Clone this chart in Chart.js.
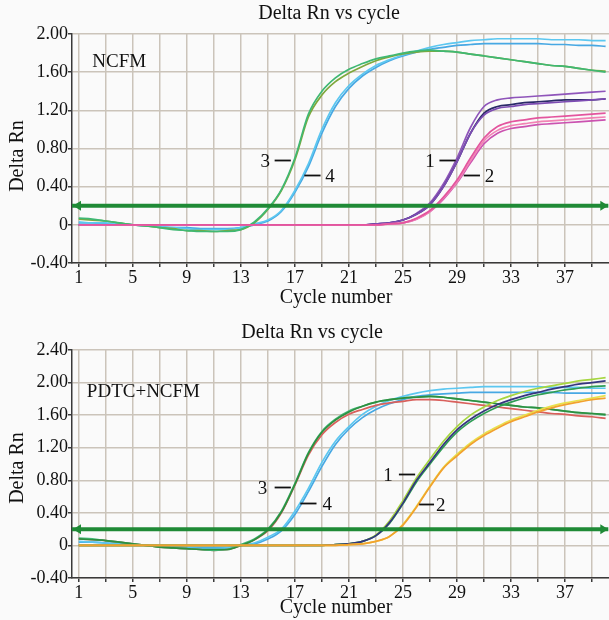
<!DOCTYPE html>
<html>
<head>
<meta charset="utf-8">
<script src="https://cdn.jsdelivr.net/npm/chart.js@4.4.1/dist/chart.umd.min.js"></script>
<style>
    html, body { margin: 0; padding: 0; background: #fafafa; overflow: hidden; }
    canvas { display: block; }
</style>
</head>
<body>
<canvas id="ncfmCanvas" width="611" height="310" style="width:611px;height:310px"></canvas>
<canvas id="pdtcCanvas" width="611" height="310" style="width:611px;height:310px"></canvas>
<script>

// ---------------- Data -------------------------------------------------------
const CYCLES = [ 1, 2, 3, 4, 5, 6, 7, 8, 9,10,11,12,13,14,15,16,17,18,19,20,
                21,22,23,24,25,26,27,28,29,30,31,32,33,34,35,36,37,38,39,40] ;

const X_GRID_TICKS  = [ 1, 3, 5, 7, 9, 11, 13, 15, 17, 19, 21, 23, 25, 27, 29, 31, 33, 35, 37, 39 ] ;
const X_LABEL_TICKS = [ 1, 5, 9, 13, 17, 21, 25, 29, 33, 37 ] ;
const NCFM_Y_TICKS  = [ -0.4, 0, 0.4, 0.8, 1.2, 1.6, 2.0 ] ;
const PDTC_Y_TICKS  = [ -0.4, 0, 0.4, 0.8, 1.2, 1.6, 2.0, 2.4 ] ;

const THRESHOLD       = 0.2 ;
const THRESHOLD_RANGE = [ 0.5, 40.2 ] ;

// Panel 1 : NCFM
const NCFM_CURVE3_A = [0.07,0.06,0.04,0.02,0.00,-0.01,-0.03,-0.05,-0.06,-0.07,-0.07,-0.07,-0.05,0.03,0.17,0.37,0.70,1.16,1.40,1.54,
                       1.63,1.69,1.74,1.77,1.80,1.82,1.83,1.82,1.81,1.79,1.77,1.75,1.73,1.71,1.69,1.67,1.66,1.64,1.62,1.60] ;
const NCFM_CURVE3_B = [0.06,0.05,0.04,0.02,0.00,-0.01,-0.03,-0.04,-0.06,-0.06,-0.07,-0.06,-0.05,0.02,0.16,0.36,0.68,1.13,1.36,1.50,
                       1.59,1.66,1.72,1.76,1.79,1.81,1.82,1.82,1.81,1.79,1.77,1.75,1.73,1.71,1.69,1.67,1.66,1.64,1.62,1.61] ;
const NCFM_CURVE4_A = [0.03,0.02,0.02,0.01,0.00,-0.01,-0.02,-0.03,-0.04,-0.05,-0.05,-0.05,-0.03,0.01,0.05,0.15,0.36,0.64,1.00,1.28,
                       1.46,1.58,1.67,1.73,1.78,1.82,1.86,1.89,1.91,1.93,1.94,1.95,1.95,1.95,1.95,1.94,1.94,1.94,1.93,1.93] ;
const NCFM_CURVE4_B = [0.02,0.02,0.01,0.01,0.00,-0.01,-0.02,-0.03,-0.03,-0.04,-0.04,-0.04,-0.03,0.00,0.04,0.14,0.34,0.61,0.96,1.24,
                       1.43,1.56,1.65,1.72,1.77,1.81,1.84,1.86,1.88,1.89,1.90,1.90,1.90,1.90,1.90,1.89,1.89,1.88,1.88,1.87] ;
const NCFM_CURVE1_A = [0,0,0,0,0,0,0,0,0,0,0,0,0,0,0,0,0,0,0,0,
                       0,0,0.01,0.02,0.05,0.12,0.23,0.43,0.70,1.02,1.24,1.31,1.33,1.34,1.35,1.36,1.37,1.38,1.39,1.40] ;
const NCFM_CURVE1_B = [0,0,0,0,0,0,0,0,0,0,0,0,0,0,0,0,0,0,0,0,
                       0,0,0.01,0.02,0.05,0.11,0.21,0.40,0.66,0.96,1.17,1.24,1.26,1.28,1.29,1.30,1.31,1.31,1.31,1.32] ;
const NCFM_CURVE1_C = [0,0,0,0,0,0,0,0,0,0,0,0,0,0,0,0,0,0,0,0,
                       0,0,0.01,0.02,0.05,0.11,0.21,0.40,0.66,0.96,1.15,1.22,1.24,1.26,1.27,1.28,1.29,1.30,1.31,1.32] ;
const NCFM_CURVE2_A = [0,0,0,0,0,0,0,0,0,0,0,0,0,0,0,0,0,0,0,0,
                       0,0,0,0.01,0.02,0.07,0.15,0.29,0.47,0.70,0.91,1.03,1.08,1.10,1.12,1.13,1.14,1.15,1.16,1.17] ;
const NCFM_CURVE2_B = [0,0,0,0,0,0,0,0,0,0,0,0,0,0,0,0,0,0,0,0,
                       0,0,0,0.01,0.02,0.06,0.14,0.28,0.45,0.67,0.88,0.99,1.04,1.06,1.08,1.09,1.10,1.11,1.12,1.13] ;
const NCFM_CURVE2_C = [0,0,0,0,0,0,0,0,0,0,0,0,0,0,0,0,0,0,0,0,
                       0,0,0,0.01,0.02,0.06,0.14,0.27,0.44,0.65,0.85,0.96,1.01,1.03,1.05,1.06,1.07,1.08,1.09,1.10] ;

// Panel 2 : PDTC+NCFM
const PDTC_CURVE3_A = [0.09,0.08,0.06,0.04,0.02,0.00,-0.02,-0.03,-0.04,-0.05,-0.06,-0.05,0.01,0.08,0.20,0.42,0.76,1.14,1.40,1.55,
                       1.65,1.71,1.76,1.79,1.81,1.82,1.83,1.82,1.80,1.78,1.76,1.74,1.72,1.70,1.69,1.67,1.65,1.63,1.62,1.60] ;
const PDTC_CURVE3_B = [0.08,0.07,0.06,0.04,0.02,0.00,-0.02,-0.03,-0.04,-0.05,-0.05,-0.05,0.00,0.07,0.19,0.41,0.75,1.13,1.39,1.54,
                       1.64,1.71,1.76,1.79,1.81,1.82,1.83,1.82,1.80,1.78,1.76,1.74,1.72,1.70,1.69,1.67,1.65,1.63,1.62,1.61] ;
const PDTC_CURVE3_R = [0.08,0.07,0.06,0.04,0.02,0.00,-0.02,-0.03,-0.04,-0.05,-0.06,-0.05,0.00,0.07,0.18,0.40,0.74,1.11,1.36,1.51,
                       1.61,1.67,1.72,1.75,1.77,1.79,1.79,1.78,1.76,1.74,1.72,1.70,1.68,1.66,1.64,1.62,1.61,1.59,1.58,1.56] ;
const PDTC_CURVE4_A = [0.05,0.04,0.03,0.02,0.01,0.00,-0.01,-0.02,-0.03,-0.04,-0.04,-0.03,0.00,0.03,0.10,0.20,0.42,0.70,1.02,1.28,
                       1.46,1.61,1.71,1.78,1.83,1.87,1.90,1.92,1.93,1.94,1.95,1.95,1.95,1.95,1.95,1.94,1.94,1.94,1.93,1.93] ;
const PDTC_CURVE4_B = [0.04,0.04,0.03,0.02,0.01,0.00,-0.01,-0.02,-0.03,-0.03,-0.03,-0.03,0.00,0.02,0.08,0.18,0.38,0.66,0.97,1.24,
                       1.43,1.57,1.67,1.74,1.79,1.83,1.85,1.86,1.87,1.88,1.88,1.88,1.88,1.88,1.88,1.88,1.87,1.87,1.87,1.87] ;
const PDTC_CURVE1_Y = [0,0,0,0,0,0,0,0,0,0,0,0,0,0,0,0,0,0,0,0.01,
                       0.02,0.05,0.13,0.30,0.55,0.83,1.06,1.28,1.46,1.60,1.70,1.78,1.84,1.89,1.93,1.96,1.99,2.02,2.04,2.06] ;
const PDTC_CURVE1_N = [0,0,0,0,0,0,0,0,0,0,0,0,0,0,0,0,0,0,0,0.01,
                       0.02,0.05,0.12,0.28,0.52,0.80,1.02,1.24,1.42,1.55,1.65,1.73,1.79,1.84,1.88,1.92,1.95,1.98,2.00,2.02] ;
const PDTC_CURVE1_G = [0,0,0,0,0,0,0,0,0,0,0,0,0,0,0,0,0,0,0,0.01,
                       0.02,0.05,0.12,0.27,0.51,0.78,1.00,1.21,1.39,1.52,1.62,1.70,1.76,1.81,1.85,1.88,1.91,1.93,1.95,1.96] ;
const PDTC_CURVE2_O = [0,0,0,0,0,0,0,0,0,0,0,0,0,0,0,0,0,0,0,0,
                       0.01,0.02,0.05,0.11,0.25,0.47,0.72,0.95,1.10,1.24,1.35,1.44,1.52,1.58,1.64,1.69,1.73,1.76,1.79,1.81] ;
const PDTC_CURVE2_Y = [0,0,0,0,0,0,0,0,0,0,0,0,0,0,0,0,0,0,0,0,
                       0.01,0.02,0.05,0.11,0.26,0.48,0.73,0.96,1.12,1.26,1.37,1.46,1.54,1.60,1.66,1.71,1.75,1.78,1.81,1.84] ;

// Curve group labels ( text, text cycle, dash from / to cycle, value )
const NCFM_LABELS = [
    { text: '3', tx: 14.8, x1: 15.5, x2: 16.7, y: 0.68 },
    { text: '4', tx: 19.6, x1: 17.7, x2: 18.9, y: 0.52 },
    { text: '1', tx: 27.0, x1: 27.7, x2: 28.9, y: 0.68 },
    { text: '2', tx: 31.4, x1: 29.5, x2: 30.7, y: 0.52 }
] ;
const PDTC_LABELS = [
    { text: '3', tx: 14.6, x1: 15.5, x2: 16.7, y: 0.72 },
    { text: '4', tx: 19.4, x1: 17.4, x2: 18.6, y: 0.52 },
    { text: '1', tx: 23.9, x1: 24.7, x2: 25.9, y: 0.88 },
    { text: '2', tx: 27.8, x1: 26.2, x2: 27.3, y: 0.51 }
] ;

// ---------------- Constants --------------------------------------------------
const FONT        = '"Liberation Serif", "DejaVu Serif", serif' ;
const TEXT_COLOR  = '#111111' ;
const GRID_COLOR  = '#cbc4ba' ;
const AXIS_COLOR  = '#3a3a3a' ;
const PAGE_BG     = '#fafafa' ;
const THRESH_CLR  = '#1f8a36' ;
const X_MIN = 0.5 ;
const X_MAX = 40.4 ;

Chart.defaults.font.family = FONT ;
Chart.defaults.color = TEXT_COLOR ;

// ---------------- Helpers ----------------------------------------------------
function toPoints( values ) {
    return CYCLES.map( function( c, i ) { return { x: c, y: values[i] } ; } ) ;
}

function curve( values, color, width ) {
    return {
        type                   : 'line',
        data                   : toPoints( values ),
        borderColor            : color,
        backgroundColor        : color,
        borderWidth            : width || 1.7,
        pointRadius            : 0,
        cubicInterpolationMode : 'monotone',
        fill                   : false
    } ;
}

function thresholdDataset() {
    return {
        type            : 'line',
        data            : THRESHOLD_RANGE.map( function( x ) { return { x: x, y: THRESHOLD } ; } ),
        borderColor     : THRESH_CLR,
        backgroundColor : THRESH_CLR,
        borderWidth     : 4,
        pointRadius     : 0
    } ;
}

// ---------------- Decoration plugin ------------------------------------------
const panelDecorPlugin = {
    id : 'panelDecor',

    beforeDraw : function( chart ) {
        const ctx = chart.ctx ;
        ctx.save() ;
        ctx.fillStyle = PAGE_BG ;
        ctx.fillRect( 0, 0, chart.width, chart.height ) ;
        ctx.restore() ;
    },

    afterDatasetsDraw : function( chart, args, opts ) {
        const ctx = chart.ctx ;
        const xs = chart.scales.x ;
        const ys = chart.scales.y ;

        ctx.save() ;

        // threshold arrow heads
        const ty = ys.getPixelForValue( THRESHOLD ) ;
        const lx = xs.getPixelForValue( THRESHOLD_RANGE[0] ) + 1 ;
        const rx = xs.getPixelForValue( THRESHOLD_RANGE[1] ) ;
        ctx.fillStyle = THRESH_CLR ;
        ctx.beginPath() ;
        ctx.moveTo( lx, ty ) ; ctx.lineTo( lx + 8, ty - 5 ) ; ctx.lineTo( lx + 8, ty + 5 ) ;
        ctx.closePath() ; ctx.fill() ;
        ctx.beginPath() ;
        ctx.moveTo( rx, ty ) ; ctx.lineTo( rx - 8, ty - 5 ) ; ctx.lineTo( rx - 8, ty + 5 ) ;
        ctx.closePath() ; ctx.fill() ;

        // curve group labels
        ctx.fillStyle = TEXT_COLOR ;
        ctx.strokeStyle = TEXT_COLOR ;
        ctx.lineWidth = 1.8 ;
        ctx.font = '19px ' + FONT ;
        ctx.textBaseline = 'middle' ;
        ctx.textAlign = 'center' ;
        opts.labels.forEach( function( lbl ) {
            const y = Math.round( ys.getPixelForValue( lbl.y ) ) + 0.5 ;
            ctx.beginPath() ;
            ctx.moveTo( xs.getPixelForValue( lbl.x1 ), y ) ;
            ctx.lineTo( xs.getPixelForValue( lbl.x2 ), y ) ;
            ctx.stroke() ;
            ctx.fillText( lbl.text, xs.getPixelForValue( lbl.tx ), y + 2 ) ;
        } ) ;

        // panel name
        ctx.textAlign = 'left' ;
        ctx.fillText( opts.name.text,
                      xs.getPixelForValue( opts.name.x ),
                      ys.getPixelForValue( opts.name.y ) ) ;

        // chart title and axis titles
        ctx.font = '20px ' + FONT ;
        ctx.textAlign = 'center' ;
        ctx.fillText( opts.title.text, opts.title.x, opts.title.y ) ;
        ctx.fillText( 'Cycle number', opts.xTitle.x, opts.xTitle.y ) ;

        ctx.translate( opts.yTitle.x, opts.yTitle.y ) ;
        ctx.rotate( -Math.PI / 2 ) ;
        ctx.fillText( 'Delta Rn', 0, 0 ) ;

        ctx.restore() ;
    }
} ;

// ---------------- Options ----------------------------------------------------
function getScaleOptions( yTicks, xAxisHeight ) {
    return {
        x : {
            type : 'linear',
            min  : X_MIN,
            max  : X_MAX,
            afterBuildTicks : function( scale ) {
                scale.ticks = X_GRID_TICKS.map( function( v ) { return { value: v } ; } ) ;
            },
            afterFit : function( scale ) { scale.height = xAxisHeight ; },
            ticks : {
                autoSkip    : false,
                maxRotation : 0,
                padding     : 0,
                color       : TEXT_COLOR,
                font        : { size: 18 },
                callback    : function( v ) {
                    return X_LABEL_TICKS.indexOf( v ) >= 0 ? String( v ) : '' ;
                }
            },
            grid   : { color: GRID_COLOR, lineWidth: 1.5, tickLength: 4, tickColor: AXIS_COLOR },
            border : { color: AXIS_COLOR, width: 1.5 }
        },
        y : {
            min : yTicks[0],
            max : yTicks[ yTicks.length - 1 ],
            afterBuildTicks : function( scale ) {
                scale.ticks = yTicks.map( function( v ) { return { value: v } ; } ) ;
            },
            afterFit : function( scale ) { scale.width = 72 ; },
            ticks : {
                padding  : 0,
                color    : TEXT_COLOR,
                font     : { size: 18 },
                callback : function( v ) {
                    return Math.abs( v ) < 1e-9 ? '0' : v.toFixed( 2 ) ;
                }
            },
            grid   : { color: GRID_COLOR, lineWidth: 1.5, tickLength: 4, tickColor: AXIS_COLOR },
            border : { color: AXIS_COLOR, width: 1.5 }
        }
    } ;
}

function drawPanel( canvasId, datasets, yTicks, layout, decor ) {
    const canvas = document.getElementById( canvasId ) ;
    return new Chart( canvas, {
        type : 'line',
        data : { datasets: datasets },
        options : {
            responsive          : false,
            devicePixelRatio    : 1,
            animation           : false,
            layout              : { padding: { top: layout.top, left: 0, right: 0, bottom: 0 } },
            scales              : getScaleOptions( yTicks, layout.xAxisHeight ),
            plugins : {
                legend     : { display: false },
                tooltip    : { enabled: false },
                panelDecor : decor
            }
        },
        plugins : [ panelDecorPlugin ]
    } ) ;
}

// ---------------- Panels (first dataset is drawn on top) ---------------------
drawPanel( 'ncfmCanvas', [
        thresholdDataset(),
        curve( NCFM_CURVE2_A, '#e3559e' ),
        curve( NCFM_CURVE2_B, '#f282b4' ),
        curve( NCFM_CURVE2_C, '#cb52b0' ),
        curve( NCFM_CURVE1_C, '#7d4cb3' ),
        curve( NCFM_CURVE1_B, '#2b2a68' ),
        curve( NCFM_CURVE1_A, '#8f55ba' ),
        curve( NCFM_CURVE3_A, '#3fb873' ),
        curve( NCFM_CURVE3_B, '#7fa83c' ),
        curve( NCFM_CURVE4_A, '#5cc7f0' ),
        curve( NCFM_CURVE4_B, '#47a8e3' )
    ],
    NCFM_Y_TICKS,
    { top: 34, xAxisHeight: 47 },
    {
        labels : NCFM_LABELS,
        name   : { text: 'NCFM', x: 2.0, y: 1.71 },
        title  : { text: 'Delta Rn vs cycle', x: 329, y: 14 },
        xTitle : { x: 336, y: 298 },
        yTitle : { x: 18, y: 156 }
    }
) ;

drawPanel( 'pdtcCanvas', [
        thresholdDataset(),
        curve( PDTC_CURVE2_O, '#f2a12e' ),
        curve( PDTC_CURVE2_Y, '#e8e24a' ),
        curve( PDTC_CURVE1_N, '#35357f' ),
        curve( PDTC_CURVE1_G, '#2f9e55' ),
        curve( PDTC_CURVE1_Y, '#a6d640' ),
        curve( PDTC_CURVE3_B, '#2e8f40' ),
        curve( PDTC_CURVE3_A, '#44bb7a' ),
        curve( PDTC_CURVE3_R, '#d9605c' ),
        curve( PDTC_CURVE4_A, '#5cc7f0' ),
        curve( PDTC_CURVE4_B, '#47a8e3' )
    ],
    PDTC_Y_TICKS,
    { top: 40, xAxisHeight: 42 },
    {
        labels : PDTC_LABELS,
        name   : { text: 'PDTC+NCFM', x: 1.6, y: 1.89 },
        title  : { text: 'Delta Rn vs cycle', x: 312, y: 23 },
        xTitle : { x: 336, y: 298 },
        yTitle : { x: 18, y: 158 }
    }
) ;

</script>
</body>
</html>
